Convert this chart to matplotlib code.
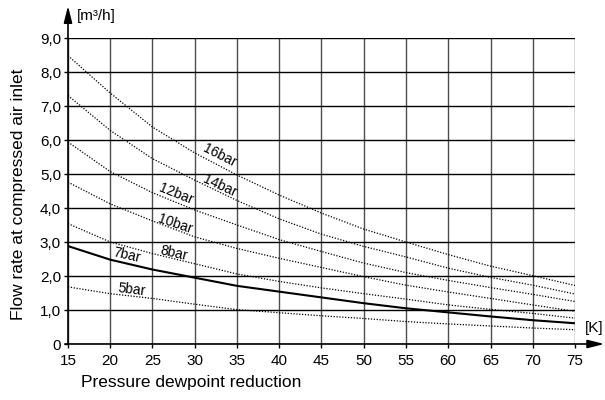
import matplotlib
matplotlib.use("Agg")
import matplotlib.pyplot as plt

plt.rcParams['font.family'] = ['Liberation Sans', 'DejaVu Sans']

# dewpoint reduction [K]
dewpoint_k = [15, 20, 25, 30, 35, 40, 45, 50, 55, 60, 65, 70, 75]

# flow rate [m3/h] per inlet pressure
flow_16bar = [8.48, 7.38, 6.38, 5.62, 4.97, 4.38, 3.85, 3.38, 3.00, 2.63, 2.29, 2.01, 1.72]
flow_14bar = [7.31, 6.28, 5.45, 4.82, 4.22, 3.68, 3.23, 2.87, 2.56, 2.23, 1.96, 1.73, 1.47]
flow_12bar = [5.94, 5.07, 4.45, 3.94, 3.50, 3.07, 2.72, 2.38, 2.10, 1.87, 1.66, 1.46, 1.25]
flow_10bar = [4.76, 4.12, 3.62, 3.15, 2.81, 2.52, 2.25, 1.98, 1.73, 1.53, 1.34, 1.15, 0.96]
flow_8bar = [3.54, 3.00, 2.66, 2.36, 2.06, 1.84, 1.65, 1.48, 1.32, 1.15, 1.02, 0.90, 0.76]
flow_7bar = [2.88, 2.48, 2.19, 1.95, 1.71, 1.54, 1.37, 1.20, 1.05, 0.93, 0.81, 0.70, 0.61]
flow_5bar = [1.68, 1.48, 1.34, 1.17, 1.01, 0.92, 0.83, 0.75, 0.66, 0.59, 0.53, 0.47, 0.42]

curve_names = ['16bar', '14bar', '12bar', '10bar', '8bar', '7bar', '5bar']
curves = [flow_16bar, flow_14bar, flow_12bar, flow_10bar, flow_8bar, flow_7bar, flow_5bar]

# label anchor (x, y) and rotation for each curve name
label_x = [32.9, 33.0, 27.8, 27.7, 27.5, 22.0, 22.6]
label_y = [5.53, 4.65, 4.41, 3.53, 2.66, 2.60, 1.59]
label_rot = [-27, -25, -22, -19, -13, -13, -7]

x_ticks = [15, 20, 25, 30, 35, 40, 45, 50, 55, 60, 65, 70, 75]
y_ticks = [0, 1, 2, 3, 4, 5, 6, 7, 8, 9]
y_ticklabels = ['0', '1,0', '2,0', '3,0', '4,0', '5,0', '6,0', '7,0', '8,0', '9,0']

fig = plt.figure(figsize=(6.05, 4.0), dpi=100)
ax = fig.add_axes([68 / 605, 56 / 400, 507 / 605, 306 / 400])

ax.set_xlim(15, 75)
ax.set_ylim(0, 9)
ax.set_xticks(x_ticks)
ax.set_yticks(y_ticks)
ax.set_yticklabels(y_ticklabels)
ax.tick_params(direction='out', length=3, width=1, labelsize=11, pad=2)
ax.tick_params(axis='x', pad=4)

# grid
ax.grid(axis='y', color='black', linewidth=1.0)
ax.grid(axis='x', color='0.3', linewidth=1.0)
ax.set_axisbelow(True)

for s in ['top', 'right', 'left', 'bottom']:
    ax.spines[s].set_visible(False)

# axes with arrows
ax.annotate('', xy=(0, 1.105), xytext=(0, 0), xycoords='axes fraction',
            arrowprops=dict(arrowstyle='-|>,head_length=1.0,head_width=0.25',
                            color='black', lw=1.2, shrinkA=0, shrinkB=0))
ax.annotate('', xy=(1.058, 0), xytext=(-0.006, 0), xycoords='axes fraction',
            arrowprops=dict(arrowstyle='-|>,head_length=1.0,head_width=0.25',
                            color='black', lw=1.2, shrinkA=0, shrinkB=0))

for name, flow in zip(curve_names, curves):
    if name == '7bar':
        ax.plot(dewpoint_k, flow, color='black', lw=1.5, solid_capstyle='butt')
    else:
        ax.plot(dewpoint_k, flow, color='black', lw=0.9, linestyle=(0, (1, 1.3)))

for name, lx, ly, rot in zip(curve_names, label_x, label_y, label_rot):
    ax.text(lx, ly, name, fontsize=10, rotation=rot, ha='center', va='center',
            rotation_mode='anchor')

fig.text(77 / 605, 1 - 16 / 400, '[m³/h]', fontsize=11, ha='left', va='center')
fig.text(1 - 2 / 605, 1 - 328 / 400, '[K]', fontsize=11, ha='right', va='center')
fig.text(19 / 605, 1 - 194 / 400, 'Flow rate at compressed air inlet',
         fontsize=12.5, rotation=90, ha='center', va='center')
fig.text(81 / 605, 1 - 383 / 400, 'Pressure dewpoint reduction',
         fontsize=12.5, ha='left', va='center')

fig.savefig('out.png', dpi=100)
